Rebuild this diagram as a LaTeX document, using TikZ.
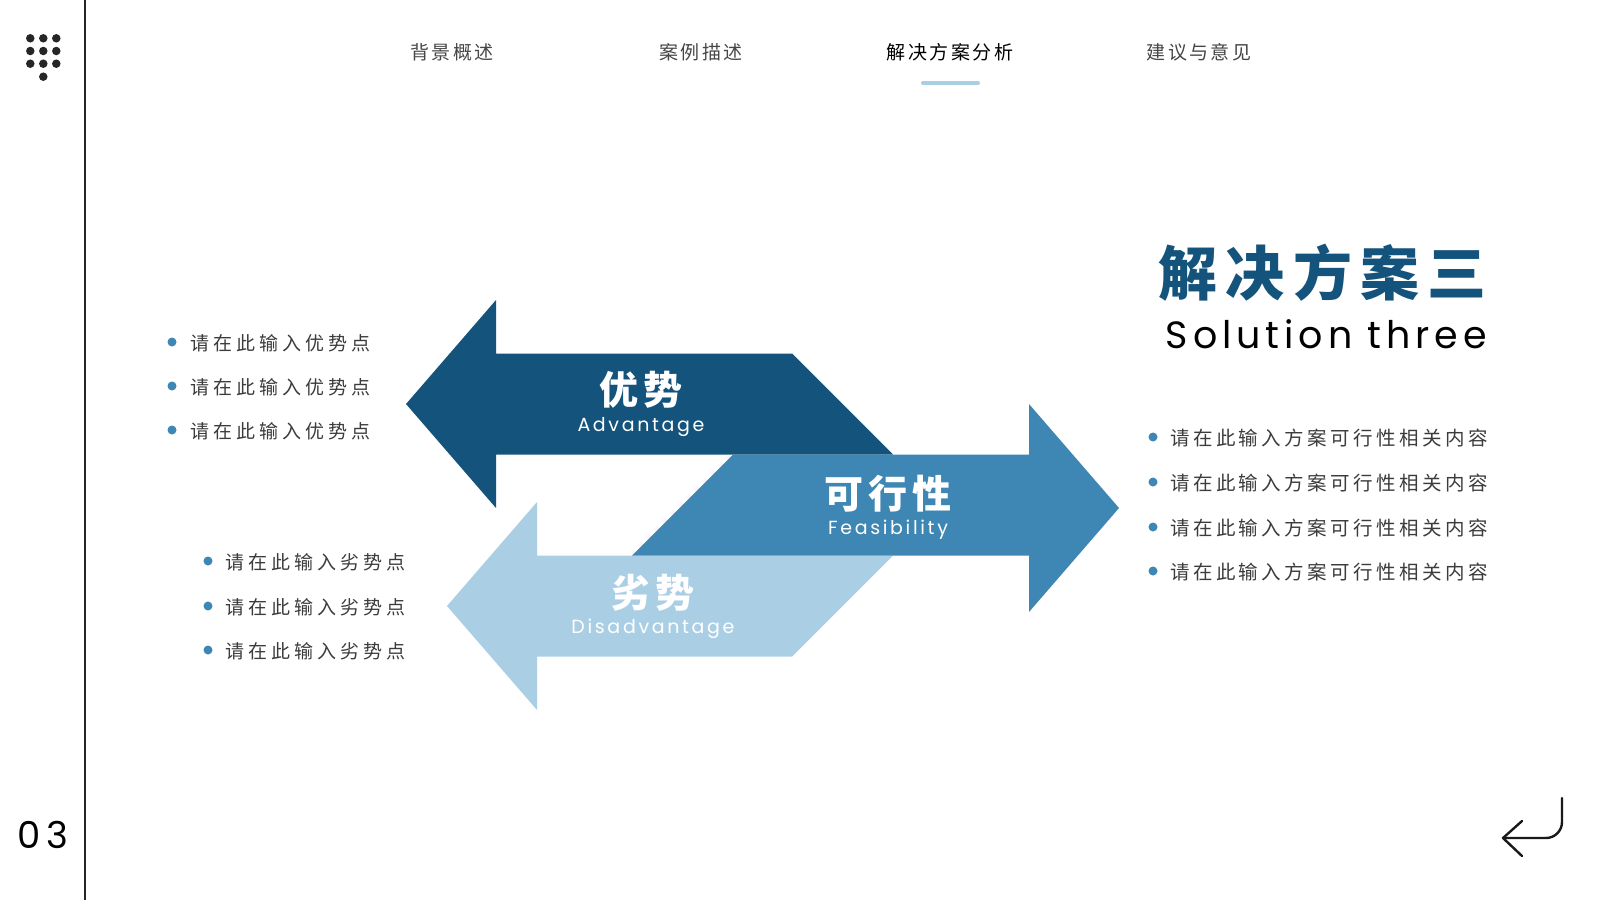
\documentclass[tikz,border=0pt]{standalone}
\usepackage{fontspec}
\setmainfont{Noto Sans CJK SC}
\newfontfamily\cjk{Noto Sans CJK SC}
\newfontfamily\pop{Poppins}
\definecolor{cdark}{RGB}{20,83,124}
\definecolor{cmed}{RGB}{62,134,179}
\definecolor{clight}{RGB}{170,207,229}
\definecolor{ctxt}{RGB}{60,60,60}
\definecolor{cnav}{RGB}{70,70,70}
\newcommand{\fs}[1]{\fontsize{#1}{#1}\selectfont}
\tikzset{
  navtxt/.style={inner sep=0pt,text=cnav,font=\cjk\fs{19}\addfontfeature{LetterSpace=13}},
  bul/.style={circle,fill=cmed,inner sep=0pt,minimum size=9pt},
  ltxt/.style={anchor=west,inner sep=0pt,text=ctxt,font=\cjk\fs{19}\addfontfeature{LetterSpace=21}},
  rtxt/.style={anchor=west,inner sep=0pt,text=ctxt,font=\cjk\fs{19.5}\addfontfeature{LetterSpace=17.5}},
  biglab/.style={inner sep=0pt,text=white,font=\cjk\bfseries\fs{39}\addfontfeature{LetterSpace=14}},
  enlab/.style={inner sep=0pt,text=white,font=\pop\fs{19}\addfontfeature{LetterSpace=14}},
  dotc/.style={circle,fill=black!85,inner sep=0pt,minimum size=8.5pt}
}
\begin{document}
\begin{tikzpicture}[x=1pt,y=-1pt]
\useasboundingbox (0,0) rectangle (1600,900);
\fill[white] (0,0) rectangle (1600,900);
% left rule
\draw[line width=2pt,black!85] (85,0) -- (85,900);
% dot grid
\foreach \i in {0,1,2}{\foreach \j in {0,1,2}{
  \node[dotc] (d\i\j) at (30.3+13*\i,38.3+12.7*\j) {};}}
\node[dotc] (dlast) at (43.3,76.7) {};
% page number
\node[inner sep=0pt,font=\pop\fs{37}\addfontfeature{LetterSpace=14}] (pnum) at (43,835) {03};
% nav
\node[navtxt] (n1) at (452,52) {背景概述};
\node[navtxt] (n2) at (701,52) {案例描述};
\node[navtxt,text=black] (n3) at (950,52) {解决方案分析};
\node[navtxt] (n4) at (1199,52) {建议与意见};
\draw[clight,line width=4pt,line cap=round] (923,83) -- (978,83);
% arrows
\fill[cdark] (406,404) -- (496,300) -- (496,353.5) -- (792,353.5) -- (893,454.5) -- (496,454.5) -- (496,508) -- cycle;
\fill[clight] (447,606) -- (537,502) -- (537,555.5) -- (893,555.5) -- (792,656.5) -- (537,656.5) -- (537,710) -- cycle;
\fill[cmed] (1119,508) -- (1029,404) -- (1029,454.5) -- (733,454.5) -- (632,555.5) -- (1029,555.5) -- (1029,612) -- cycle;
\node[biglab] (adv) at (641,390) {优势};
\node[enlab] (adve) at (641,427) {Advantage};
\node[biglab] (fea) at (888,494) {可行性};
\node[enlab] (feae) at (888,530) {Feasibility};
\node[biglab] (dis) at (653,593) {劣势};
\node[enlab] (dise) at (653,629) {Disadvantage};
% title
\node[anchor=east,inner sep=0pt,text=cdark,font=\cjk\bfseries\fs{59}\addfontfeature{LetterSpace=14}] (title) at (1487,273) {解决方案三};
\node[anchor=east,inner sep=0pt,font=\pop\fs{38}\addfontfeature{LetterSpace=13}] (titlee) at (1487,334) {Solution three};
% left bullets
\foreach \y [count=\k] in {343,387,431}{
  \node[bul] (ab\k) at (172,\y-1) {};
  \node[ltxt] (at\k) at (190,\y) {请在此输入优势点};}
\foreach \y [count=\k] in {562,607,651}{
  \node[bul] (db\k) at (208,\y-1) {};
  \node[ltxt] (dt\k) at (225,\y) {请在此输入劣势点};}
% right bullets
\foreach \y [count=\k] in {438,483,528,572}{
  \node[bul] (fb\k) at (1153,\y-1) {};
  \node[rtxt] (ft\k) at (1170,\y) {请在此输入方案可行性相关内容};}
% return arrow
\coordinate (r1) at (1562,798);
\coordinate (r2) at (1503,838);
\draw[line width=2.4pt,black!90,line cap=round,line join=round,rounded corners=16pt] (r1) -- (1562,838) -- (r2);
\draw[line width=2.4pt,black!90,line cap=round,line join=round] (1522,821) -- (r2) -- (1522,856);
\end{tikzpicture}
\end{document}
